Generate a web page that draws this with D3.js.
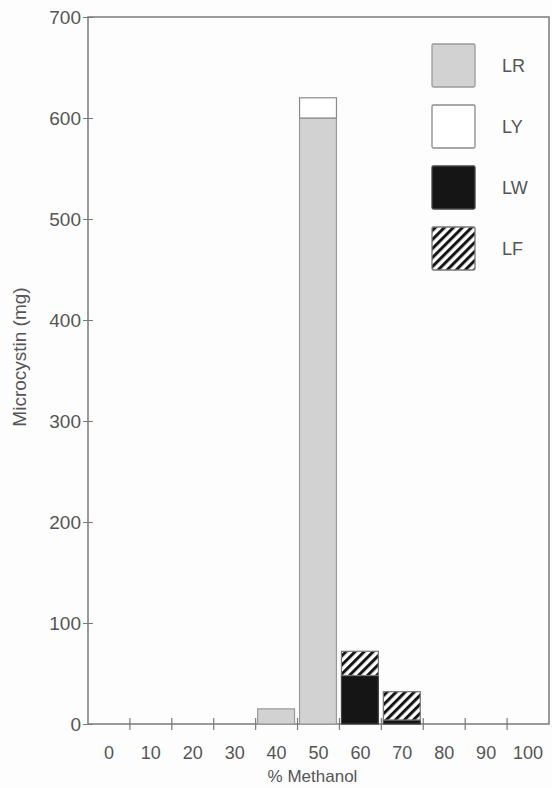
<!DOCTYPE html>
<html><head><meta charset="utf-8">
<script src="https://cdn.jsdelivr.net/npm/d3@7/dist/d3.min.js"></script>
<style>
body{margin:0;background:#fdfdfd;}
svg{display:block;}
text{font-family:"Liberation Sans",Arial,sans-serif;fill:#555;}
</style></head>
<body><svg id="c" width="552" height="788"></svg>
<script>
const categories = ["0","10","20","30","40","50","60","70","80","90","100"];
const seriesNames = ["LR","LY","LW","LF"];
const LR = [0,0,0,0,15,600,0,0,0,0,0];
const LY = [0,0,0,0,0,20,0,0,0,0,0];
const LW = [0,0,0,0,0,0,48,4,0,0,0];
const LF = [0,0,0,0,0,0,24,28,0,0,0];
const yTicks = [0,100,200,300,400,500,600,700];
const xTitle = "% Methanol";
const yTitle = "Microcystin (mg)";

const svg = d3.select("#c");
const L = 88, R = 549, T = 17, B = 724;
const x = d3.scaleBand().domain(categories).range([L, R]).padding(0);
const y = d3.scaleLinear().domain([0, 700]).range([B, T]);

const defs = svg.append("defs");
const pat = defs.append("pattern").attr("id","hatch").attr("patternUnits","userSpaceOnUse")
  .attr("width",6.4).attr("height",6.4).attr("patternTransform","rotate(45)");
pat.append("rect").attr("width",6.4).attr("height",6.4).attr("fill","#fff");
pat.append("rect").attr("width",3).attr("height",6.4).attr("fill","#151515");

const fills = {LR:"#d2d2d2", LY:"#ffffff", LW:"#151515", LF:"url(#hatch)"};
const strokes = {LR:"#9a9a9a", LY:"#8a8a8a", LW:"#444", LF:"#777"};

const rows = categories.map((c,i)=>({cat:c, LR:LR[i], LY:LY[i], LW:LW[i], LF:LF[i]}));
const stack = d3.stack().keys(seriesNames)(rows);

// frame
const axisColor = "#7a7a7a";
svg.append("rect").attr("x",L).attr("y",T).attr("width",R-L).attr("height",B-T)
  .attr("fill","none").attr("stroke",axisColor).attr("stroke-width",1.5);

// bars
stack.forEach(s=>{
  svg.append("g").selectAll("rect").data(s.filter(d=>d[1]-d[0]>0)).join("rect")
    .attr("x", d=>x(d.data.cat)+2)
    .attr("width", x.bandwidth()-5)
    .attr("y", d=>y(d[1]))
    .attr("height", d=>y(d[0])-y(d[1]))
    .attr("fill", fills[s.key])
    .attr("stroke", strokes[s.key]).attr("stroke-width",1.2);
});

// y axis
const yAxis = svg.append("g").attr("transform",`translate(${L},0)`)
  .call(d3.axisLeft(y).tickValues(yTicks).tickSize(5).tickPadding(2).tickFormat(d3.format("d")));
yAxis.select(".domain").remove();
yAxis.selectAll(".tick line").attr("x2",-5).attr("x1",5).attr("stroke",axisColor);
yAxis.selectAll(".tick text").attr("font-size",19).attr("fill","#555")
  .attr("font-family","Liberation Sans, Arial, sans-serif").attr("dy","0.35em");

// x axis labels
const xAxis = svg.append("g").attr("transform",`translate(0,${B})`)
  .call(d3.axisBottom(x).tickSize(0).tickPadding(22));
xAxis.select(".domain").remove();
xAxis.selectAll(".tick text").attr("font-size",18).attr("fill","#555")
  .attr("font-family","Liberation Sans, Arial, sans-serif");
// x tick marks at band boundaries
svg.append("g").selectAll("line").data(categories.slice(1)).join("line")
  .attr("x1",d=>x(d)).attr("x2",d=>x(d))
  .attr("y1",B-6).attr("y2",B+6)
  .attr("stroke",axisColor).attr("stroke-width",1.2);

// titles
svg.append("text").attr("x",(L+R)/2 - 6).attr("y",782).attr("text-anchor","middle")
  .attr("font-size",17).text(xTitle);
svg.append("text").attr("transform","translate(26,357) rotate(-90)").attr("text-anchor","middle")
  .attr("font-size",19).text(yTitle);

// legend
const lg = svg.append("g");
seriesNames.forEach((k,i)=>{
  const yy = 44 + i*61;
  lg.append("rect").attr("x",432).attr("y",yy).attr("width",43).attr("height",43)
    .attr("rx",1.5).attr("fill",fills[k]).attr("stroke",strokes[k]).attr("stroke-width",1.3);
  lg.append("text").attr("x",502).attr("y",yy+21.5).attr("dy","0.35em")
    .attr("font-size",18).text(k);
});
</script></body></html>
